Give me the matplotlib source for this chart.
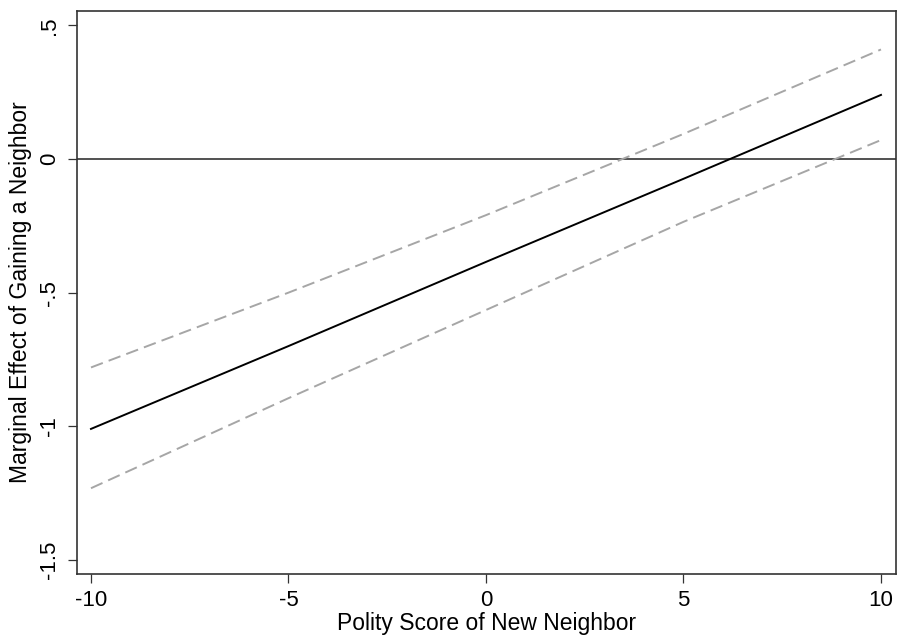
import matplotlib
matplotlib.use("Agg")
import matplotlib.pyplot as plt

polity = [-10, -5, 0, 5, 10]
effect = [-1.01, -0.70, -0.385, -0.074, 0.24]
upper_ci = [-0.78, -0.50, -0.21, 0.094, 0.41]
lower_ci = [-1.232, -0.895, -0.565, -0.235, 0.071]

xticks = [-10, -5, 0, 5, 10]
xticklabels = ["-10", "-5", "0", "5", "10"]
yticks = [-1.5, -1, -0.5, 0, 0.5]
yticklabels = ["-1.5", "-1", "-.5", "0", ".5"]

plt.rcParams['font.family'] = ['Liberation Sans', 'DejaVu Sans']

fig = plt.figure(figsize=(8.98, 6.37), dpi=100)
ax = fig.add_axes([77/898, 1-574/637, (896-77)/898, (574-11)/637])

ax.axhline(0, color='#333333', lw=1.2, zorder=1)
ax.plot(polity, upper_ci, color='#A6A6A6', lw=1.4, dashes=(6.5, 3.2), zorder=2)
ax.plot(polity, lower_ci, color='#A6A6A6', lw=1.4, dashes=(6.5, 3.2), zorder=2)
ax.plot(polity, effect, color='black', lw=1.4, zorder=3)

ax.set_xlim(-10.354, 10.38)
ax.set_ylim(-1.553, 0.554)
ax.set_xticks(xticks)
ax.set_xticklabels(xticklabels)
ax.set_yticks(yticks)
ax.set_yticklabels(yticklabels, rotation=90, va='center')
ax.tick_params(axis='both', direction='out', length=6.5, width=0.9, color='#333333', labelsize=16)
ax.tick_params(axis='x', pad=5)
ax.tick_params(axis='y', pad=6)
for s in ax.spines.values():
    s.set_color('#333333')
    s.set_linewidth(1.2)

ax.set_xlabel("Polity Score of New Neighbor", fontsize=16.5, labelpad=1)
ax.set_ylabel("Marginal Effect of Gaining a Neighbor", fontsize=16.5, labelpad=5)

fig.savefig("out.png", dpi=100)
